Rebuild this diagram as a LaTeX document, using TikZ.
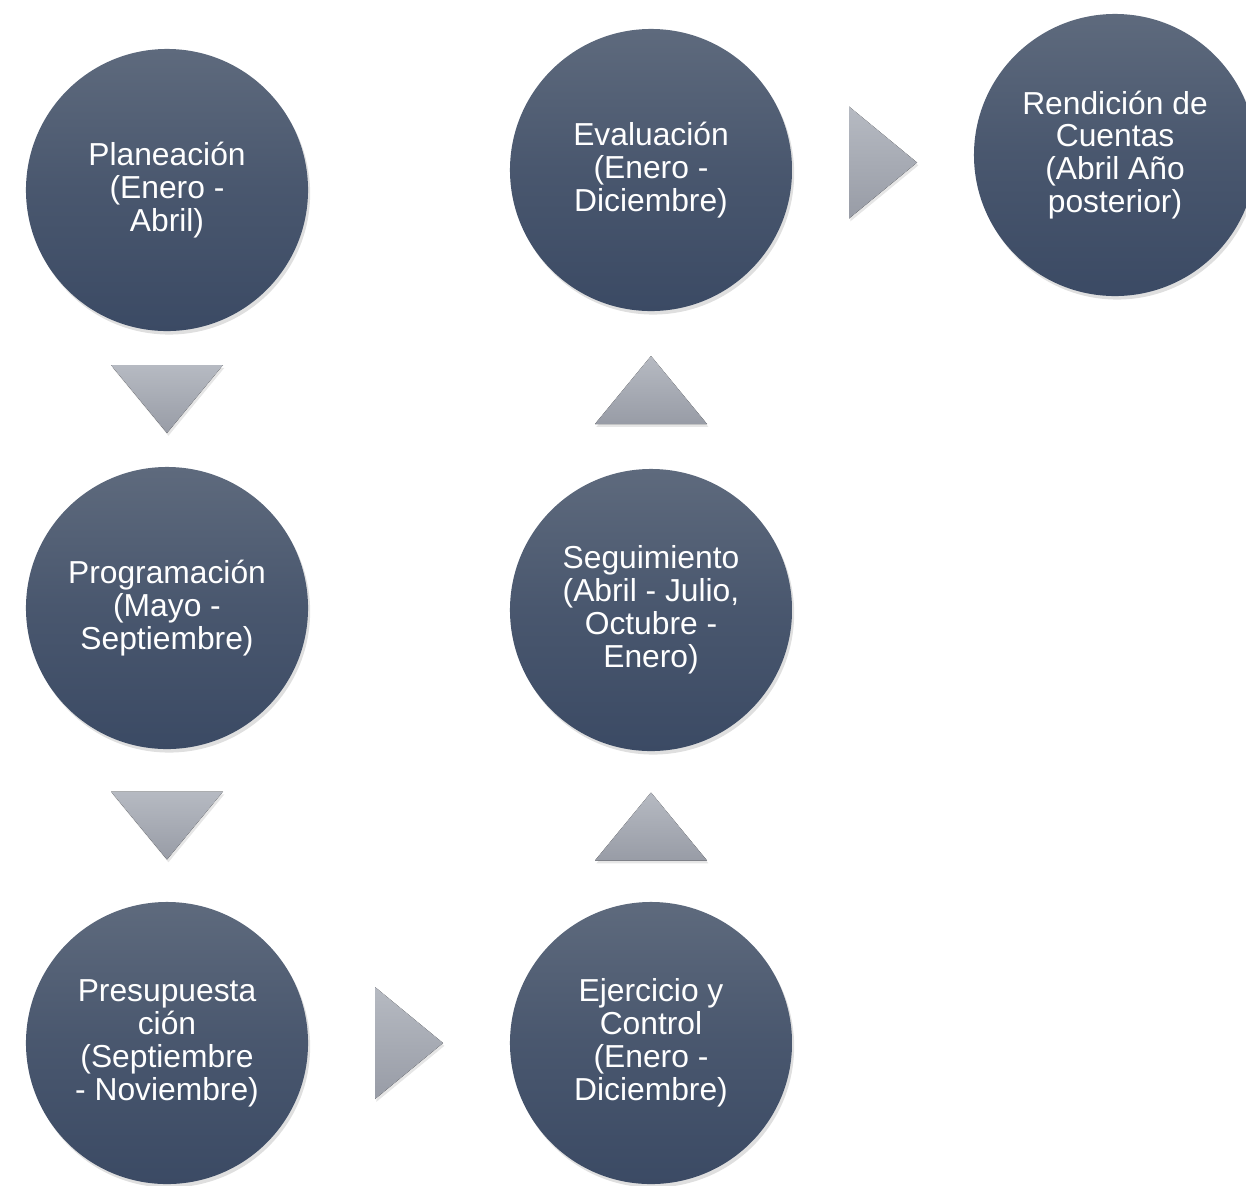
\documentclass[tikz,border=0pt]{standalone}
\usepackage{fontspec}
\setmainfont{Liberation Sans}
\usetikzlibrary{calc,shadows}

\definecolor{circtop}{HTML}{5E6A7D}
\definecolor{circbot}{HTML}{3B4A64}
\definecolor{tritop}{HTML}{B6BAC2}
\definecolor{tribot}{HTML}{989CA6}

\begin{document}
\begin{tikzpicture}[x=0.025cm, y=-0.025cm,
            phase/.style={circle, minimum size=7.05cm, inner sep=0pt, text=white, align=center,
                font=\fontsize{22.6}{23.4}\selectfont, top color=circtop, bottom color=circbot, middle color=circbot!60!circtop,
                drop shadow={opacity=.25, shadow xshift=1.5pt, shadow yshift=-2.5pt}},
            tri/.style={top color=tritop, bottom color=tribot, draw=none,
                drop shadow={opacity=.2, shadow xshift=1pt, shadow yshift=-2pt}}
        ]
            \useasboundingbox (0,0) rectangle (1246,1185);
            \node[phase] (plan) at (167,190) {Planeación\\(Enero -\\Abril)};
            \node[phase] (prog) at (167,608) {Programación\\(Mayo -\\Septiembre)};
            \node[phase] (pres) at (167,1043) {Presupuesta\\ción\\(Septiembre\\- Noviembre)};
            \node[phase] (ejer) at (651,1043) {Ejercicio y\\Control\\(Enero -\\Diciembre)};
            \node[phase] (segu) at (651,610) {Seguimiento\\(Abril - Julio,\\Octubre -\\Enero)};
            \node[phase] (eval) at (651,170) {Evaluación\\(Enero -\\Diciembre)};
            \node[phase] (rend) at (1115,155) {Rendición de\\Cuentas\\(Abril Año\\posterior)};

            % flow triangles between the phases
            \fill[tri] ($(plan)!.5!(prog)$) +(-56,-34) -- +(56,-34) -- +(0,34) -- cycle;
            \fill[tri] ($(prog)!.5!(pres)$) +(-56,-34) -- +(56,-34) -- +(0,34) -- cycle;
            \fill[tri] ($(pres)!.5!(ejer)$) +(-34,-56) -- +(34,0) -- +(-34,56) -- cycle;
            \fill[tri] ($(ejer)!.5!(segu)$) +(-56,34) -- +(56,34) -- +(0,-34) -- cycle;
            \fill[tri] ($(segu)!.5!(eval)$) +(-56,34) -- +(56,34) -- +(0,-34) -- cycle;
            \fill[tri] ($(eval)!.5!(rend)$) +(-34,-56) -- +(34,0) -- +(-34,56) -- cycle;
        \end{tikzpicture}
\end{document}
